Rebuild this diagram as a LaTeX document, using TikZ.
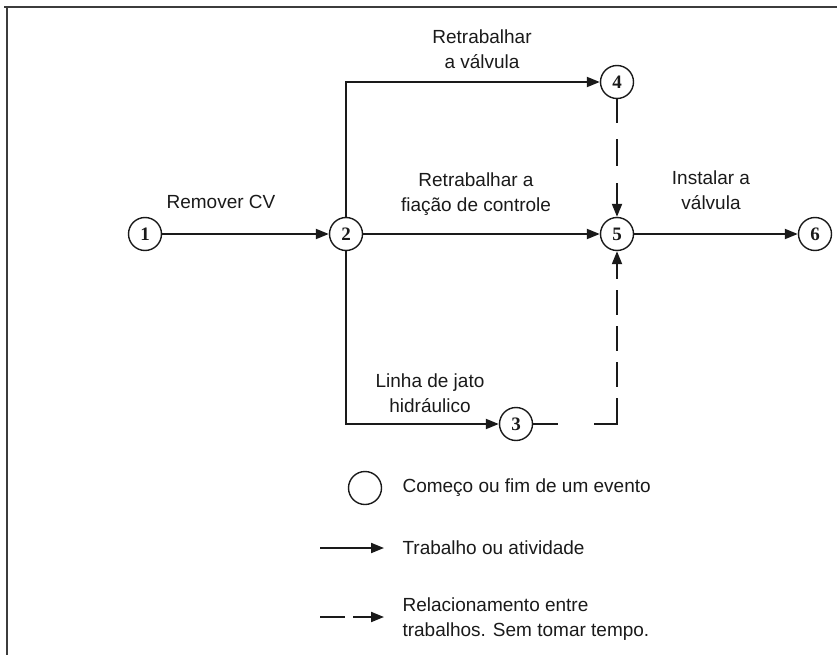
\documentclass[tikz,border=0pt]{standalone}
\usepackage{fontspec}
\setmainfont{Liberation Sans}
\newfontfamily\numfont{Liberation Serif}
\usetikzlibrary{arrows.meta}
\definecolor{ink}{HTML}{1A1A1A}
\begin{document}
\begin{tikzpicture}[x=1pt,y=-1pt,
  frame/.style={line width=2pt,draw=ink!85},
  event/.style={circle,draw=ink,line width=1.4pt,minimum size=33pt,inner sep=0pt,
    text=ink,font=\numfont\bfseries\fontsize{19}{19}\selectfont},
  job/.style={draw=ink,line width=2pt,-{Triangle[length=13pt,width=10pt]}},
  link/.style={job},
  lbl/.style={text=ink,font=\fontsize{19}{25}\selectfont,align=center},
  ]
\useasboundingbox (0,0) rectangle (837,655);

% page frame (top and left edges)
\draw[frame] (4,7) -- (837,7);
\draw[frame] (7,7) -- (7,655);

% events
\node[event] (n1) at (145,234) {1};
\node[event] (n2) at (346,234) {2};
\node[event] (n3) at (516,424) {3};
\node[event] (n4) at (617,82) {4};
\node[event] (n5) at (617,234) {5};
\node[event] (n6) at (815,234) {6};

% activities
\draw[job] (n1) -- (n2);
\draw[job] (n2) |- (n4);
\draw[job] (n2) -- (n5);
\draw[job] (n2) |- (n3);
\draw[job] (n5) -- (n6);

% dummy relations
\draw[link,dash pattern=on 24pt off 16pt on 27pt off 17pt on 60pt] (n4) -- (n5);
\draw[link,dash pattern=on 25pt off 36pt on 49pt off 11pt on 25pt off 11pt on 25pt off 11pt on 25pt off 11pt on 60pt] (n3) -| (n5);

% activity labels
\node[lbl] (tRem) at (221,202) {Remover CV};
\node[lbl] (tValv) at (482,49) {Retrabalhar\\a válvula};
\node[lbl] (tFia) at (476,194) {Retrabalhar a\\fiação de controle};
\node[lbl] (tInst) at (711,190) {Instalar a\\válvula};
\node[lbl] (tJato) at (430,393) {Linha de jato\\hidráulico};

% legend
\node[event] (lgEvt) at (365,488) {};
\node[lbl,anchor=west] (lgEvtT) at (399,488) {Começo ou fim de um evento};

\coordinate (lgJobA) at (320,548);
\coordinate (lgJobB) at (384,548);
\draw[job] (lgJobA) -- (lgJobB);
\node[lbl,anchor=west] (lgJobT) at (399,548) {Trabalho ou atividade};

\coordinate (lgLinkA) at (320,617);
\coordinate (lgLinkB) at (384,617);
\draw[link,dash pattern=on 25pt off 8pt on 40pt] (lgLinkA) -- (lgLinkB);
\node[lbl,anchor=west,align=left] (lgLinkT) at (399,619) {Relacionamento entre\\trabalhos. Sem tomar tempo.};
\end{tikzpicture}
\end{document}
